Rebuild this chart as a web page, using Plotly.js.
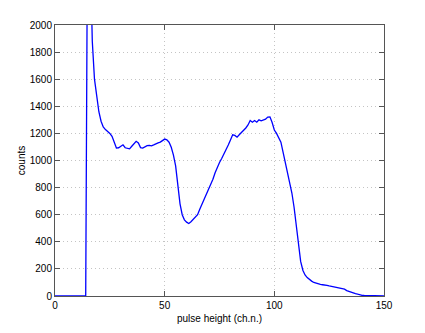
<!DOCTYPE html>
<html>
<head>
<meta charset="utf-8">
<script src="https://cdn.plot.ly/plotly-3.0.1.min.js"></script>
<style>
  html, body { margin: 0; padding: 0; background: #fff; }
  #chart { width: 425px; height: 333px; }
</style>
</head>
<body>
<div id="chart"></div>
<script>
// pulse height spectrum, counts per channel 0..150
const counts = [
  0, 0, 0, 0, 0, 0, 0, 0, 0, 0, 0, 0, 0, 0, 0,
  3330, 2500, 1880, 1600, 1460, 1360, 1290, 1248, 1228, 1214,
  1200, 1178, 1130, 1092, 1094, 1102, 1116, 1094, 1090, 1086,
  1105, 1128, 1142, 1130, 1095, 1092, 1102, 1110, 1112, 1108,
  1115, 1125, 1130, 1136, 1150, 1158, 1152, 1135, 1098, 1040,
  960, 820, 680, 600, 562, 545, 535, 548, 565, 580,
  600, 640, 675, 715, 752, 790, 825, 862, 910, 950,
  985, 1015, 1045, 1075, 1115, 1152, 1190, 1185, 1172, 1190,
  1205, 1220, 1240, 1262, 1295, 1283, 1295, 1283, 1300, 1293,
  1300, 1305, 1320, 1322, 1280, 1225, 1200, 1172, 1135, 1060,
  990, 905, 845, 760, 655, 520, 360, 255, 190, 155,
  136, 120, 110, 100, 93, 88, 85, 83, 82, 78,
  74, 70, 67, 64, 60, 58, 55, 50, 40, 33,
  28, 23, 18, 13, 8, 5, 4, 3, 3, 2,
  2, 2, 1, 1, 1, 0
];
const channels = counts.map((_, i) => i);

const xTicks = [0, 50, 100, 150];
const yTicks = [0, 200, 400, 600, 800, 1000, 1200, 1400, 1600, 1800, 2000];

const axisCommon = {
  showline: true,
  mirror: "ticks",
  linecolor: "#555",
  linewidth: 1,
  ticks: "inside",
  ticklen: 5,
  tickcolor: "#555",
  showgrid: true,
  gridcolor: "#c4c4c4",
  griddash: "1px,3px",
  gridwidth: 1,
  zeroline: false,
  tickfont: { size: 10, color: "#000" }
};

const trace = {
  x: channels,
  y: counts,
  type: "scatter",
  mode: "lines",
  line: { color: "#0000ff", width: 1.3 },
  hoverinfo: "x+y"
};

const layout = {
  width: 425,
  height: 333,
  margin: { l: 55, r: 41, t: 25, b: 37 },
  paper_bgcolor: "#fff",
  plot_bgcolor: "#fff",
  showlegend: false,
  font: { family: "Liberation Sans, Arial, Helvetica, sans-serif", size: 10, color: "#000" },
  xaxis: {
    ...axisCommon,
    range: [0, 150],
    tickvals: xTicks,
    title: { text: "pulse height (ch.n.)", font: { size: 10 }, standoff: 4 }
  },
  yaxis: {
    ...axisCommon,
    range: [0, 2000],
    tickvals: yTicks,
    title: { text: "counts", font: { size: 10 }, standoff: 2 }
  }
};

Plotly.newPlot("chart", [trace], layout, { displayModeBar: false, staticPlot: true });
</script>
</body>
</html>
